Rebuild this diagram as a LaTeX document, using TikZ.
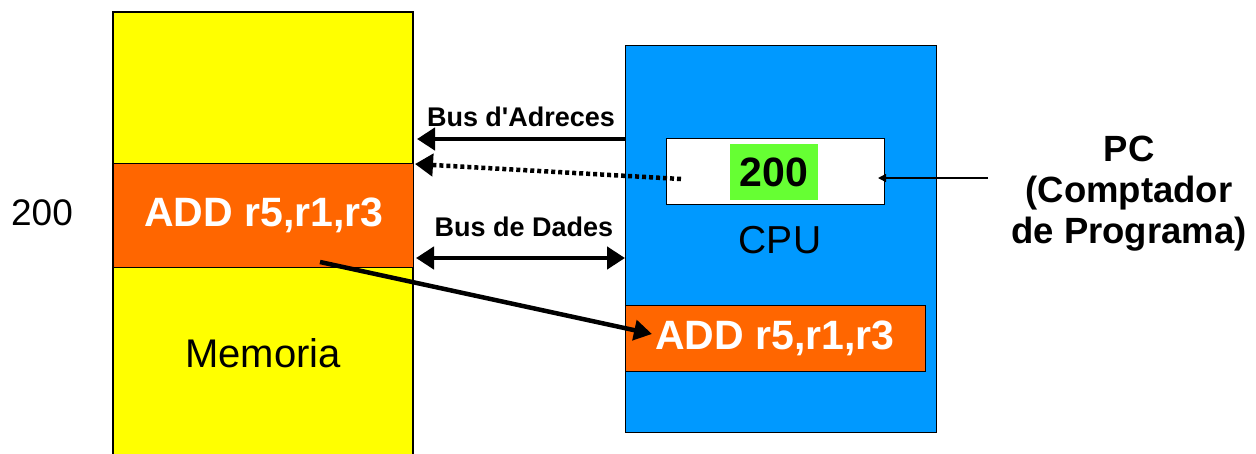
\documentclass[tikz,border=0pt]{standalone}
\usepackage{fontspec}
\setmainfont{Liberation Sans}
\newfontfamily\rawsans{Liberation Sans}
\usetikzlibrary{arrows.meta}
\definecolor{memyellow}{RGB}{255,255,0}
\definecolor{instorange}{RGB}{255,102,0}
\definecolor{cpublue}{RGB}{0,153,255}
\definecolor{pcgreen}{RGB}{102,255,51}
\tikzset{
  box/.style={draw=black, line width=1.2pt, inner sep=0pt},
  bus/.style={line width=4.5pt, -{Triangle[length=18pt,width=22pt]}},
  lbl/.style={font=\fontsize{27}{30}\selectfont\bfseries, inner sep=0pt},
  instr/.style={font=\fontsize{41}{46}\selectfont\bfseries, text=white, inner sep=0pt},
  big/.style={font=\fontsize{39}{44}\selectfont, inner sep=0pt}
}
\begin{document}
\begin{tikzpicture}[x=1pt,y=-1pt]
\useasboundingbox (0,0) rectangle (1256,453);
% memory
\fill[memyellow] (113,12) rectangle (413,460);
\draw[line width=1.2pt] (113,460) -- (113,12) -- (413,12) -- (413,460);
\node[box, fill=instorange, minimum width=300pt, minimum height=104pt, anchor=north west] (memins) at (113,163) {};
\node[instr] at (264,215) {ADD r5,r1,r3};
\node[big, font=\fontsize{40}{44}\selectfont] (memlbl) at (263,353) {Memoria};
\node[big, font=\fontsize{37}{40}\selectfont] (addr) at (42,213) {200};
% cpu
\node[box, fill=cpublue, minimum width=311pt, minimum height=387pt, anchor=north west] (cpu) at (625,45) {};
\node[box, fill=white, minimum width=218pt, minimum height=66pt, anchor=north west] (pc) at (666,138) {};
\node[fill=pcgreen, minimum width=88pt, minimum height=56pt, inner sep=0pt] (pcg) at (774,172) {};
\node[font=\fontsize{41}{46}\selectfont\bfseries, inner sep=0pt] (pcval) at (pcg) {200};
\node[big] (cpulbl) at (780,240) {CPU};
\node[box, fill=instorange, minimum width=300pt, minimum height=66pt, anchor=north west] (cpuins) at (625,305) {};
\node[instr] at (775,338) {ADD r5,r1,r3};
% labels
\node[lbl, font=\rawsans\fontsize{27}{30}\selectfont\bfseries] (busa) at (521,117) {Bus d'Adreces};
\node[lbl] (busd) at (524,227) {Bus de Dades};
\node[align=center, font=\fontsize{36.5}{41}\selectfont\bfseries, inner sep=0pt] (pclbl) at (1129,194) {PC\\(Comptador\\de Programa)};
% coordinates
\coordinate (a1) at (625,139);
\coordinate (a2) at (417,139);
\coordinate (d1) at (681,179);
\coordinate (d2) at (415,164);
\coordinate (b1) at (416,258);
\coordinate (b2) at (625,258);
\coordinate (m1) at (320,262);
\coordinate (m2) at (652,334);
\coordinate (p1) at (988,178);
\coordinate (p2) at (878,178);
% arrows
\draw[bus] (a1) -- (a2);
\draw[line width=4.5pt, dash pattern=on 4pt off 3pt, -{Triangle[length=18pt,width=22pt]}] (d1) -- (d2);
\draw[line width=4.5pt, {Triangle[length=18pt,width=22pt]}-{Triangle[length=18pt,width=22pt]}] (b1) -- (b2);
\draw[line width=4.5pt, -{Triangle[length=18pt,width=20pt]}] (m1) -- (m2);
\draw[line width=1.5pt, -{Triangle[length=8pt,width=8pt]}] (p1) -- (p2);
\end{tikzpicture}
\end{document}
